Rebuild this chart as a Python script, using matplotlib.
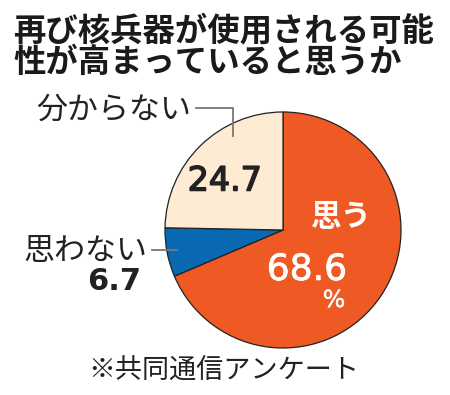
import matplotlib
matplotlib.use("Agg")
import matplotlib.pyplot as plt
import matplotlib.patheffects as pe

# --- データ ---
labels = ["思う", "思わない", "分からない"]
values = [68.6, 6.7, 24.7]
colors = ["#EF5A24", "#0868B2", "#FDEBD3"]

TITLE_LINES = ["再び核兵器が使用される可能", "性が高まっていると思うか"]
SOURCE = "※共同通信アンケート"

JP = ["Noto Sans CJK JP", "DejaVu Sans"]
NUM = ["DejaVu Sans"]

W, H = 450, 395
fig = plt.figure(figsize=(W / 100, H / 100), dpi=100)
ax = fig.add_axes([0, 0, 1, 1])


def Y(y):
    # 画像のピクセル座標(上から)をデータ座標へ
    return H - y


def thick(color, w=0.9):
    return [pe.withStroke(linewidth=w, foreground=color)]


# 円グラフ（12時から時計回り）
ax.pie(values, colors=colors, startangle=90, counterclock=False,
       center=(283, Y(230)), radius=118, frame=True,
       wedgeprops=dict(edgecolor="#222222", linewidth=0.9))
ax.set_xlim(0, W)
ax.set_ylim(0, H)
ax.set_aspect("equal")
ax.axis("off")

# タイトル
for i, line in enumerate(TITLE_LINES):
    ax.text(13, Y(31 + 31 * i), line, ha="left", va="center", fontsize=23.3,
            fontweight="bold", family=JP, color="#1a1a1a")

# 分からない
ax.text(191, Y(110), labels[2], ha="right", va="center", fontsize=22.3,
        family=JP, color="#222222")
ax.plot([196, 233, 233], [Y(108), Y(108), Y(136)], color="#777777", lw=1.3)
ax.text(225, Y(181), f"{values[2]}", ha="center", va="center", fontsize=24,
        family=NUM, color="#222222", path_effects=thick("#222222", 1.1))

# 思わない
ax.text(147, Y(251), labels[1], ha="right", va="center", fontsize=22.3,
        family=JP, color="#222222")
ax.plot([152, 177], [Y(250), Y(250)], color="#777777", lw=1.3)
ax.text(141, Y(281), f"{values[1]}", ha="right", va="center", fontsize=22,
        fontweight="bold", family=NUM, color="#222222")

# 思う
ax.text(341, Y(217), labels[0], ha="center", va="center", fontsize=22,
        fontweight="bold", family=JP, color="white")
ax.text(307, Y(270), f"{values[0]}", ha="center", va="center", fontsize=26,
        family=NUM, color="white", path_effects=thick("white", 0.5))
ax.text(334, Y(300), "%", ha="center", va="center", fontsize=17,
        family=NUM, color="white", path_effects=thick("white", 0.3))

# 出典
ax.text(224, Y(370), SOURCE, ha="center", va="center", fontsize=19.5,
        family=JP, color="#222222")

fig.savefig("out.png", dpi=100, facecolor="white")
